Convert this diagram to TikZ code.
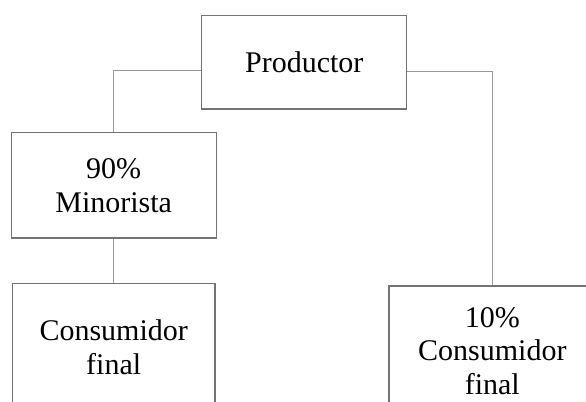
\documentclass[tikz,border=0pt]{standalone}
\usepackage{fontspec}
\setmainfont{Liberation Serif}
\usepackage{tikz}

\begin{document}
\begin{tikzpicture}[
  box/.style={draw=black!55, line width=0.9pt, inner sep=0pt, align=center,
    font=\fontsize{25.6}{28.8}\selectfont},
  link/.style={draw=black!40, line width=0.6pt}]

\useasboundingbox (0,0) rectangle (17.58,12.03);
\clip (0,0) rectangle (17.58,12.03);

\node[box, minimum width=6.15cm, minimum height=2.8cm] (prod) at (9.13,10.16) {Productor};
\node[box, minimum width=6.15cm, minimum height=3.16cm] (mino) at (3.41,6.47) {90\%\\Minorista};

\node[box, minimum width=6.08cm, minimum height=3.84cm] (consA) at (3.41,1.61) {Consumidor\\final};
\node[box, minimum width=6.2cm, minimum height=3.9cm] (consB) at (14.77,1.5) {10\%\\Consumidor\\final};

\draw[link] ([yshift=-0.25cm]prod.west) -| (mino.north);
\draw[link] ([yshift=-0.28cm]prod.east) -| (consB.north);
\draw[link] (mino.south) -- (consA.north);
\end{tikzpicture}
\end{document}
